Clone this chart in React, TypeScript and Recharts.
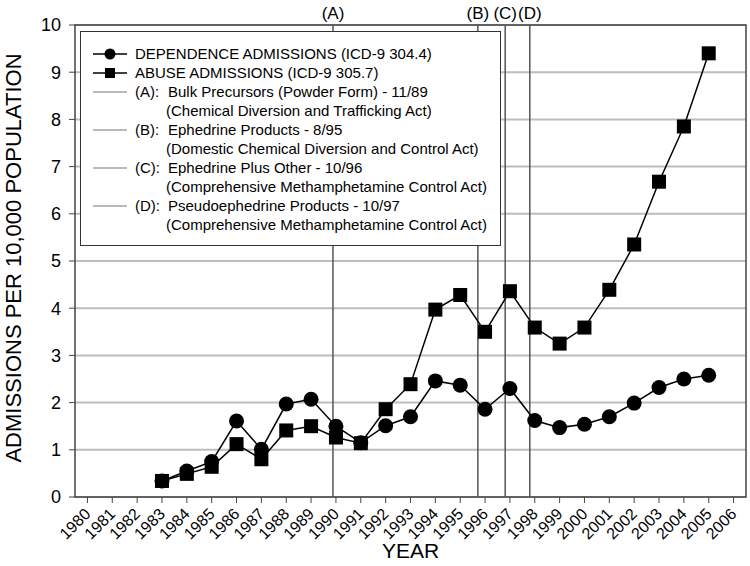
import {
  LineChart,
  Line,
  XAxis,
  YAxis,
  CartesianGrid,
  ReferenceLine,
  ReferenceArea,
  Legend,
} from "recharts";

const FONT = "Arial, 'Liberation Sans', sans-serif";

const years = [
  1983, 1984, 1985, 1986, 1987, 1988, 1989, 1990, 1991, 1992, 1993, 1994,
  1995, 1996, 1997, 1998, 1999, 2000, 2001, 2002, 2003, 2004, 2005,
];
const dependence = [
  0.34, 0.55, 0.75, 1.61, 1.01, 1.97, 2.07, 1.5, 1.15, 1.51, 1.7, 2.46,
  2.37, 1.86, 2.3, 1.62, 1.47, 1.54, 1.7, 1.99, 2.32, 2.5, 2.58,
];
const abuse = [
  0.34, 0.49, 0.64, 1.12, 0.8, 1.41, 1.5, 1.26, 1.14, 1.86, 2.39, 3.97,
  4.28, 3.5, 4.36, 3.59, 3.25, 3.59, 4.39, 5.35, 6.68, 7.85, 9.4,
];

const xTicks = [
  1980, 1981, 1982, 1983, 1984, 1985, 1986, 1987, 1988, 1989, 1990, 1991,
  1992, 1993, 1994, 1995, 1996, 1997, 1998, 1999, 2000, 2001, 2002, 2003,
  2004, 2005, 2006,
];
const yTicks = [0, 1, 2, 3, 4, 5, 6, 7, 8, 9, 10];

const seriesNames = [
  "DEPENDENCE ADMISSIONS (ICD-9 304.4)",
  "ABUSE ADMISSIONS (ICD-9 305.7)",
];

const eventTags = ["A", "B", "C", "D"];
const eventDates = [1989.88, 1995.71, 1996.81, 1997.8];
const eventTitles = [
  "Bulk Precursors (Powder Form) - 11/89",
  "Ephedrine Products - 8/95",
  "Ephedrine Plus Other - 10/96",
  "Pseudoephedrine Products - 10/97",
];
const eventActs = [
  "(Chemical Diversion and Trafficking Act)",
  "(Domestic Chemical Diversion and Control Act)",
  "(Comprehensive Methamphetamine Control Act)",
  "(Comprehensive Methamphetamine Control Act)",
];

const data = years.map((year, i) => ({
  year,
  dependence: dependence[i],
  abuse: abuse[i],
}));

const SquareDot = (props: any) => {
  const { cx, cy, index } = props;
  if (cx == null || cy == null) return null;
  return (
    <rect key={`sq-${index}`} x={cx - 7} y={cy - 7} width={14} height={14} fill="#000" />
  );
};

const XTick = (props: any) => {
  const { x, y, payload } = props;
  return (
    <text
      x={x + 4}
      y={y + 10}
      transform={`rotate(-45 ${x + 4} ${y + 10})`}
      textAnchor="end"
      fontSize={16}
      fontFamily={FONT}
      fill="#000"
    >
      {payload.value}
    </text>
  );
};

const YTitle = () => (
  <text
    x={13}
    y={258}
    transform="rotate(-90 13 258)"
    textAnchor="middle"
    dominantBaseline="central"
    fontSize={22}
    fontFamily={FONT}
    fill="#000"
  >
    ADMISSIONS PER 10,000 POPULATION
  </text>
);

const rowStyle: React.CSSProperties = {
  display: "flex",
  alignItems: "center",
  height: 19,
  whiteSpace: "nowrap",
};

const Sample = ({ marker }: { marker?: "circle" | "square" }) => (
  <svg width={36} height={14} style={{ marginRight: 6, flex: "none" }}>
    <line
      x1={0}
      x2={34}
      y1={7}
      y2={7}
      stroke={marker ? "#000" : "#777"}
      strokeWidth={marker ? 1.5 : 1.2}
    />
    {marker === "circle" && <circle cx={17} cy={7} r={5.5} fill="#000" />}
    {marker === "square" && <rect x={12} y={2} width={10} height={10} fill="#000" />}
  </svg>
);

const LegendBox = () => (
  <div
    style={{
      width: 421,
      height: 215,
      boxSizing: "border-box",
      border: "1.5px solid #333",
      background: "#fff",
      padding: "12px 0 0 12px",
      fontFamily: FONT,
      fontSize: 15,
      color: "#000",
    }}
  >
    <div style={rowStyle}>
      <Sample marker="circle" />
      {seriesNames[0]}
    </div>
    <div style={rowStyle}>
      <Sample marker="square" />
      {seriesNames[1]}
    </div>
    {eventTags.map((tag, i) => (
      <div key={tag}>
        <div style={rowStyle}>
          <Sample />
          <span style={{ width: 33, display: "inline-block" }}>({tag}):</span>
          {eventTitles[i]}
        </div>
        <div style={{ ...rowStyle, paddingLeft: 73 }}>{eventActs[i]}</div>
      </div>
    ))}
  </div>
);

export default function App() {
  return (
    <div style={{ position: "absolute", left: 0, top: 0, background: "#fff" }}>
      <LineChart
        width={750}
        height={566}
        data={data}
        margin={{ top: 25, right: 4, bottom: 0, left: 0 }}
      >
        <CartesianGrid
          horizontal
          vertical={false}
          stroke="#bdbdbd"
          strokeWidth={2}
        />
        <XAxis
          dataKey="year"
          type="number"
          domain={[1979.5, 2006.5]}
          ticks={xTicks}
          interval={0}
          height={69}
          tickSize={6}
          stroke="#444"
          axisLine={false}
          tick={<XTick />}
          label={{
            value: "YEAR",
            position: "insideBottom",
            offset: 8,
            fontSize: 21,
            fontFamily: FONT,
            fill: "#000",
          }}
        />
        <YAxis
          type="number"
          domain={[0, 10]}
          ticks={yTicks}
          interval={0}
          width={75}
          tickSize={6}
          tickMargin={8}
          axisLine={false}
          stroke="#444"
          tick={{ fontSize: 18, fontFamily: FONT, fill: "#000" }}
          label={{ content: () => <YTitle /> }}
        />
        <ReferenceArea
          x1={1979.5}
          x2={2006.5}
          y1={0}
          y2={10}
          fill="none"
          stroke="#444"
          strokeWidth={1.5}
          fillOpacity={0}
        />
        {eventDates.map((d, i) => (
          <ReferenceLine
            key={eventTags[i]}
            x={d}
            stroke="#555"
            strokeWidth={1.5}
            label={{
              value: `(${eventTags[i]})`,
              position: "top",
              offset: 6,
              fontSize: 17,
              fontFamily: FONT,
              fill: "#000",
            }}
          />
        ))}
        <Line
          dataKey="dependence"
          name={seriesNames[0]}
          stroke="#000"
          strokeWidth={1.5}
          dot={{ r: 7.5, fill: "#000", stroke: "#000", strokeWidth: 0 }}
          isAnimationActive={false}
        />
        <Line
          dataKey="abuse"
          name={seriesNames[1]}
          stroke="#000"
          strokeWidth={1.5}
          dot={<SquareDot />}
          isAnimationActive={false}
        />
        <Legend
          layout="horizontal"
          verticalAlign="middle"
          align="center"
          content={() => <LegendBox />}
          wrapperStyle={{ position: "absolute", left: 80, top: 31, width: 421, height: 215 }}
        />
      </LineChart>
    </div>
  );
}
